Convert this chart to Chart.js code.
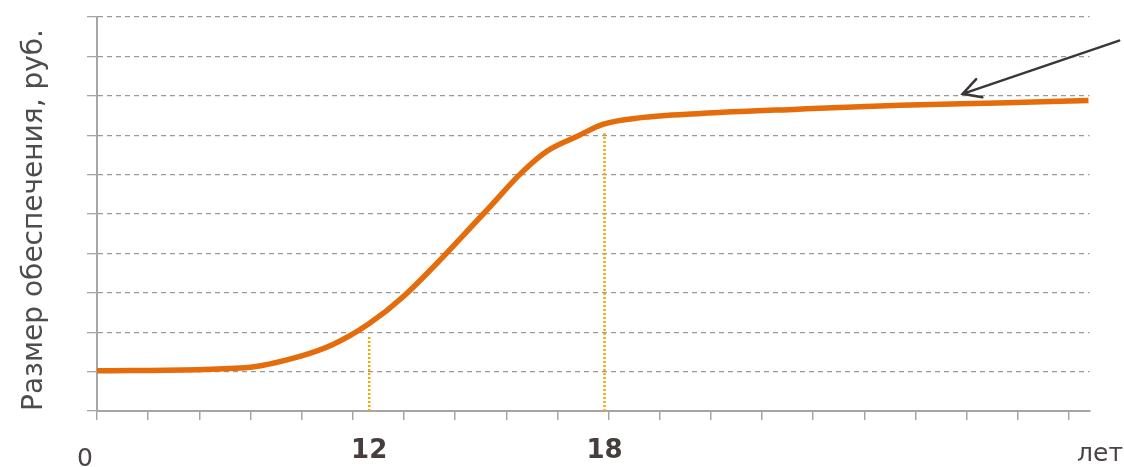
<!DOCTYPE html>
<html>
<head>
<meta charset="utf-8">
<script src="https://cdn.jsdelivr.net/npm/chart.js@4"></script>
<style>
  html, body { margin: 0; padding: 0; background: #fff; }
  #wrap { width: 1124px; height: 467px; }
</style>
</head>
<body>
<div id="wrap"><canvas id="payChart" width="1124" height="467"></canvas></div>
<script>
// curve, in axis units (x: one tick step, y: one grid step)
const curveX = [0, 2.9, 4.0, 4.6, 5.3, 6.0, 7.6, 8.3, 8.8, 9.4, 9.9, 10.6, 11.8, 13.7, 15.7, 17.6, 19.38];
const curveY = [1.02, 1.1, 1.4, 1.68, 2.2, 2.92, 5.07, 6.05, 6.6, 6.98, 7.28, 7.44, 7.55, 7.66, 7.76, 7.82, 7.88];

// age marks on the x axis
const ageLabels = ['12', '18'];
const ageX = [5.32, 9.92];
const ageLineTop = [1.88, 7.05];

const originLabel = '0';
const unitLabel = 'лет';
const yTitle = 'Размер обеспечения, руб.';

// arrow pointing at the plateau
const arrowFrom = [19.98, 9.40];
const arrowTo = [16.92, 8.05];

const textPlugin = {
    id: 'textPlugin',
    afterDraw(chart) {
        const { ctx, scales: { x, y } } = chart;
        ctx.save();

        // arrow
        const x1 = x.getPixelForValue(arrowFrom[0]), y1 = y.getPixelForValue(arrowFrom[1]);
        const x2 = x.getPixelForValue(arrowTo[0]), y2 = y.getPixelForValue(arrowTo[1]);
        const ang = Math.atan2(y1 - y2, x1 - x2);
        ctx.strokeStyle = '#3d3636';
        ctx.lineWidth = 2.5;
        ctx.lineCap = 'round';
        ctx.beginPath();
        ctx.moveTo(x1, y1);
        ctx.lineTo(x2, y2);
        ctx.moveTo(x2 + 20 * Math.cos(ang + 0.5), y2 + 20 * Math.sin(ang + 0.5));
        ctx.lineTo(x2, y2);
        ctx.lineTo(x2 + 20 * Math.cos(ang - 0.5), y2 + 20 * Math.sin(ang - 0.5));
        ctx.stroke();

        // x labels
        ctx.fillStyle = '#463d3d';
        ctx.textBaseline = 'alphabetic';
        ctx.textAlign = 'center';
        ctx.font = 'bold 26px "DejaVu Sans"';
        ageLabels.forEach((t, i) => {
            ctx.fillText(t, x.getPixelForValue(ageX[i]), 458);
        });
        ctx.font = '25px "DejaVu Sans"';
        ctx.fillStyle = '#4a4444';
        ctx.fillText(originLabel, x.getPixelForValue(0) - 12, 466);
        ctx.textAlign = 'right';
        ctx.font = '25px "DejaVu Sans"';
        ctx.fillText(unitLabel, 1123, 461);

        // y title
        ctx.translate(42, 220);
        ctx.rotate(-Math.PI / 2);
        ctx.textAlign = 'center';
        ctx.font = '28px "DejaVu Sans"';
        ctx.fillStyle = '#4d4d4d';
        ctx.fillText(yTitle, 0, 0);
        ctx.restore();
    }
};

const ctx = document.getElementById('payChart').getContext('2d');

new Chart(ctx, {
    type: 'line',
    data: {
        datasets: [{
            data: curveX.map((v, i) => ({ x: v, y: curveY[i] })),
            borderColor: '#E46C0A',
            borderWidth: 5.5,
            pointRadius: 0,
            cubicInterpolationMode: 'monotone',
            order: 0
        }].concat(ageX.map((v, i) => ({
            data: [{ x: v, y: 0 }, { x: v, y: ageLineTop[i] }],
            borderColor: '#F5A800',
            borderWidth: 2.5,
            borderDash: [2, 2],
            pointRadius: 0,
            order: 1
        })))
    },
    options: {
        responsive: false,
        animation: false,
        layout: { padding: { top: 17, right: 34.5, left: 0, bottom: 0 } },
        plugins: { legend: { display: false }, tooltip: { enabled: false } },
        scales: {
            x: {
                type: 'linear',
                min: 0,
                max: 19.4,
                ticks: { display: false, stepSize: 1, includeBounds: false },
                grid: { drawOnChartArea: false, tickLength: 9, color: '#a6a6a6', lineWidth: 1.5 },
                border: { color: '#a6a6a6', width: 2 },
                afterFit(s) { s.height = 56; }
            },
            y: {
                min: 0,
                max: 10,
                ticks: { display: false, stepSize: 1 },
                grid: {
                    color: c => c.tick && c.tick.value === 0 ? 'rgba(0,0,0,0)' : '#9a9a9a',
                    lineWidth: 1.3,
                    tickLength: 10,
                    tickColor: '#a6a6a6'
                },
                border: { color: '#a6a6a6', width: 2, dash: [5, 4] },
                afterFit(s) { s.width = 97; }
            }
        }
    },
    plugins: [textPlugin]
});
</script>
</body>
</html>
